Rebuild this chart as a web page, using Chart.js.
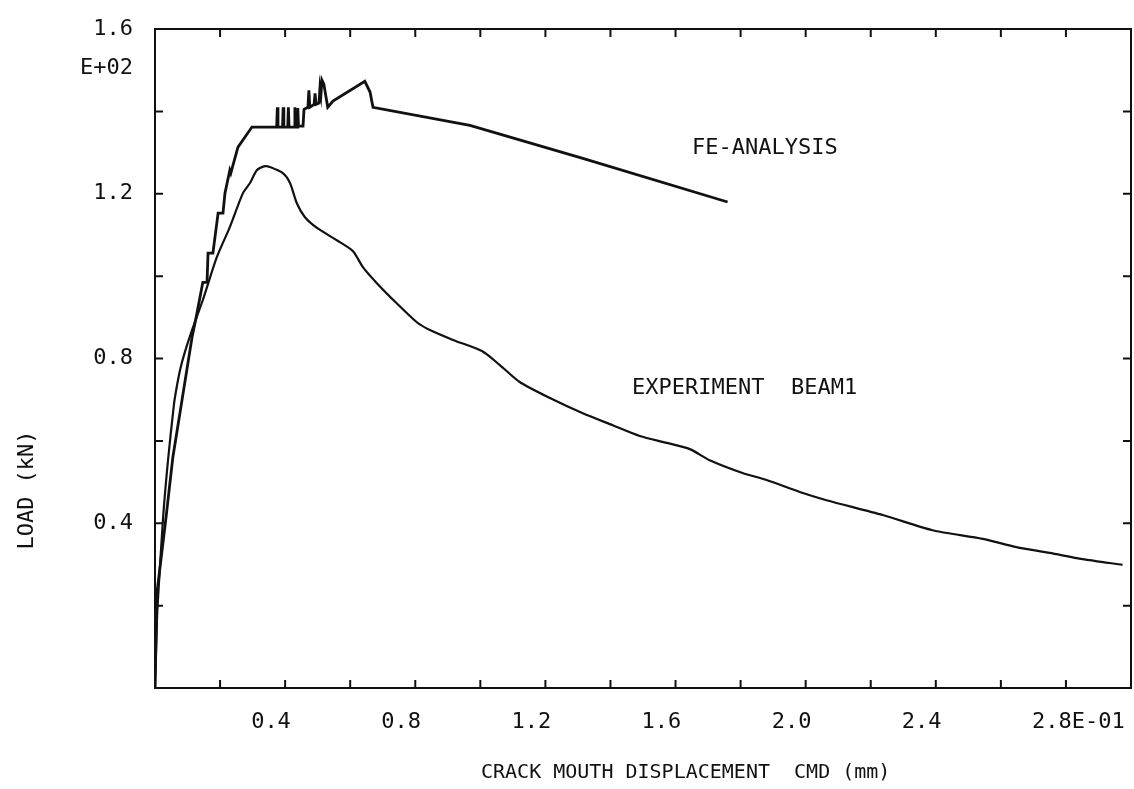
<!DOCTYPE html>
<html>
<head>
<meta charset="utf-8">
<title>Load - CMD</title>
<script src="https://cdn.jsdelivr.net/npm/chart.js@4/dist/chart.umd.min.js"></script>
<style>
  html, body { margin: 0; padding: 0; background: #fff; }
  #wrap { width: 1134px; height: 789px; position: relative; }
</style>
</head>
<body>
<div id="wrap"><canvas id="chartCanvas"></canvas></div>
<script>
// =============================
// Données (CMD en E-01 mm, charge en E+02 kN)
// =============================
const feX = [0, 0.006, 0.034, 0.055, 0.083, 0.114, 0.126, 0.147, 0.160, 0.163, 0.178, 0.194, 0.209,
  0.215, 0.230, 0.233, 0.255, 0.298, 0.374, 0.376, 0.378, 0.392, 0.394, 0.396, 0.408, 0.410, 0.412,
  0.428, 0.430, 0.432, 0.437, 0.439, 0.441, 0.455, 0.458, 0.470, 0.473, 0.476, 0.489, 0.492, 0.495,
  0.504, 0.507, 0.510, 0.513, 0.519, 0.531, 0.547, 0.645, 0.661, 0.670, 0.968, 1.315, 1.760];
const feY = [0, 0.231, 0.415, 0.561, 0.699, 0.852, 0.898, 0.985, 0.985, 1.056, 1.056, 1.153, 1.153,
  1.201, 1.257, 1.250, 1.313, 1.362, 1.362, 1.410, 1.362, 1.362, 1.410, 1.362, 1.362, 1.410, 1.362,
  1.362, 1.410, 1.362, 1.362, 1.408, 1.364, 1.364, 1.405, 1.410, 1.451, 1.410, 1.417, 1.444, 1.417,
  1.420, 1.457, 1.440, 1.476, 1.466, 1.410, 1.425, 1.473, 1.447, 1.410, 1.366, 1.286, 1.180];

const expX = [0, 0.006, 0.009, 0.025, 0.040, 0.058, 0.065, 0.077, 0.092, 0.117, 0.147, 0.190, 0.230,
  0.270, 0.292, 0.313, 0.338, 0.353, 0.393, 0.415, 0.436, 0.461, 0.498, 0.559, 0.608, 0.639, 0.682,
  0.743, 0.805, 0.845, 0.916, 1.005, 1.060, 1.121, 1.214, 1.315, 1.407, 1.490, 1.573, 1.644, 1.705,
  1.806, 1.880, 1.982, 2.064, 2.237, 2.390, 2.544, 2.648, 2.750, 2.851, 2.974];
const expY = [0, 0.165, 0.214, 0.415, 0.553, 0.687, 0.723, 0.772, 0.816, 0.876, 0.942, 1.046, 1.119,
  1.201, 1.226, 1.257, 1.267, 1.265, 1.250, 1.226, 1.177, 1.143, 1.117, 1.087, 1.061, 1.022, 0.983,
  0.934, 0.888, 0.869, 0.845, 0.818, 0.784, 0.743, 0.704, 0.667, 0.638, 0.612, 0.595, 0.580, 0.553,
  0.522, 0.505, 0.476, 0.456, 0.420, 0.383, 0.362, 0.342, 0.328, 0.313, 0.299];

// graduations étiquetées
const xTickLabels = [0.4, 0.8, 1.2, 1.6, 2.0, 2.4, 2.8];
const yTickLabels = [0.4, 0.8, 1.2, 1.6];

const FONT = "'DejaVu Sans Mono', 'Liberation Mono', monospace";
const INK = "#111";

function toPoints(xs, ys) {
  return xs.map((x, i) => ({ x: x, y: ys[i] }));
}

function labelFor(list, value, suffix) {
  const hit = list.find(v => Math.abs(v - value) < 1e-6);
  if (hit === undefined) return "";
  let s = hit.toFixed(1);
  if (suffix && hit === list[list.length - 1]) s += suffix;
  return s;
}

// pas de marge automatique autour des axes : le cadre est fixé par layout.padding
function noScalePadding(scale) {
  scale.paddingTop = 0;
  scale.paddingBottom = 0;
  scale.paddingLeft = 0;
  scale.paddingRight = 0;
}

// =============================
// Cadre, graduations internes et textes
// =============================
const framePlugin = {
  id: "frame",
  afterDatasetsDraw(chart) {
    const { ctx, chartArea: a, scales } = chart;
    const len = 8;
    ctx.save();
    ctx.strokeStyle = INK;
    ctx.lineWidth = 2;
    ctx.strokeRect(a.left, a.top, a.right - a.left, a.bottom - a.top);

    ctx.beginPath();
    scales.x.ticks.forEach(t => {
      const px = scales.x.getPixelForValue(t.value);
      if (px <= a.left + 1 || px >= a.right - 1) return;
      ctx.moveTo(px, a.bottom); ctx.lineTo(px, a.bottom - len);
      ctx.moveTo(px, a.top); ctx.lineTo(px, a.top + len);
    });
    scales.y.ticks.forEach(t => {
      const py = scales.y.getPixelForValue(t.value);
      if (py <= a.top + 1 || py >= a.bottom - 1) return;
      ctx.moveTo(a.left, py); ctx.lineTo(a.left + len, py);
      ctx.moveTo(a.right, py); ctx.lineTo(a.right - len, py);
    });
    ctx.stroke();

    ctx.fillStyle = INK;
    ctx.textBaseline = "middle";

    // exposant de l'axe des charges
    ctx.font = "22px " + FONT;
    ctx.textAlign = "right";
    ctx.fillText("E+02", a.left - 22, a.top + 39);

    // noms des courbes
    ctx.textAlign = "left";
    ctx.fillText("FE-ANALYSIS", 692, 148);
    ctx.fillText("EXPERIMENT  BEAM1", 632, 388);

    // titres des axes
    ctx.font = "20px " + FONT;
    ctx.fillText("CRACK MOUTH DISPLACEMENT  CMD (mm)", 481, 773);

    ctx.font = "22px " + FONT;
    ctx.translate(27, 490);
    ctx.rotate(-Math.PI / 2);
    ctx.textAlign = "center";
    ctx.fillText("LOAD (kN)", 0, 0);
    ctx.restore();
  }
};

// =============================
// Graphique
// =============================
new Chart(document.getElementById("chartCanvas"), {
  type: "scatter",
  data: {
    datasets: [
      {
        label: "FE-ANALYSIS",
        data: toPoints(feX, feY),
        showLine: true,
        borderColor: INK,
        borderWidth: 2.8,
        pointRadius: 0,
        borderJoinStyle: "miter"
      },
      {
        label: "EXPERIMENT BEAM1",
        data: toPoints(expX, expY),
        showLine: true,
        borderColor: INK,
        borderWidth: 2.2,
        pointRadius: 0,
        tension: 0.25
      }
    ]
  },
  options: {
    responsive: true,
    maintainAspectRatio: false,
    animation: false,
    layout: { padding: { left: 0, top: 29, right: 3, bottom: 0 } },
    plugins: { legend: { display: false }, tooltip: { enabled: false } },
    scales: {
      x: {
        type: "linear",
        min: 0, max: 3,
        grid: { display: false, drawTicks: false },
        border: { display: false },
        afterFit(scale) { scale.height = 101; noScalePadding(scale); },
        ticks: {
          stepSize: 0.2,
          autoSkip: false,
          maxRotation: 0,
          align: "start",
          labelOffset: -34,
          padding: 21,
          color: INK,
          font: { family: FONT, size: 22 },
          callback: v => labelFor(xTickLabels, v, "E-01")
        }
      },
      y: {
        type: "linear",
        min: 0, max: 1.6,
        grid: { display: false, drawTicks: false },
        border: { display: false },
        afterFit(scale) { scale.width = 155; noScalePadding(scale); },
        ticks: {
          stepSize: 0.2,
          autoSkip: false,
          padding: 22,
          color: INK,
          font: { family: FONT, size: 22 },
          callback: v => labelFor(yTickLabels, v)
        }
      }
    }
  },
  plugins: [framePlugin]
});
</script>
</body>
</html>
